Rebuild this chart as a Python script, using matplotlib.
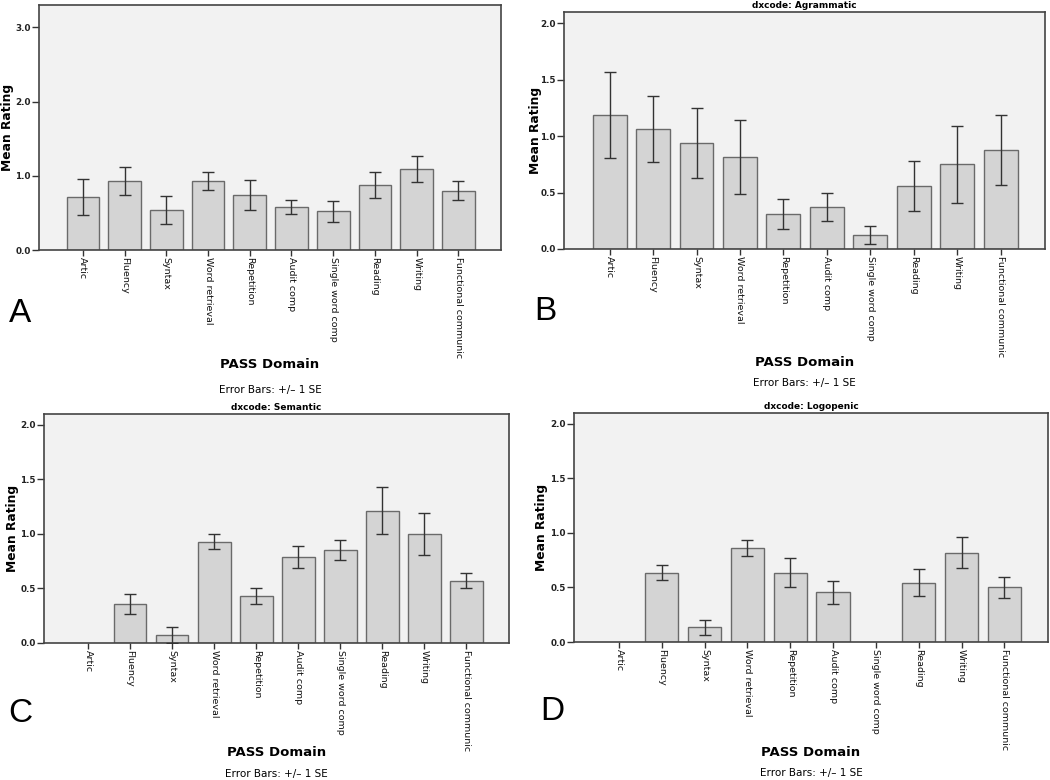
import matplotlib.pyplot as plt
import numpy as np

# PASS domains (x categories)
domains = ['Artic', 'Fluency', 'Syntax', 'Word retrieval', 'Repetition',
           'Audit comp', 'Single word comp', 'Reading', 'Writing',
           'Functional communic']

# panel A: all patients
mean_all = [0.71, 0.93, 0.54, 0.93, 0.74, 0.58, 0.52, 0.87, 1.09, 0.80]
se_all = [0.24, 0.19, 0.19, 0.125, 0.205, 0.10, 0.145, 0.175, 0.17, 0.13]

# panel B: agrammatic
mean_agr = [1.19, 1.065, 0.94, 0.815, 0.31, 0.375, 0.125, 0.56, 0.75, 0.875]
se_agr = [0.38, 0.295, 0.31, 0.33, 0.13, 0.125, 0.083, 0.222, 0.34, 0.31]

# panel C: semantic (nan = no bar)
mean_sem = [np.nan, 0.36, 0.072, 0.93, 0.43, 0.785, 0.855, 1.215, 1.0, 0.57]
se_sem = [np.nan, 0.093, 0.072, 0.07, 0.07, 0.10, 0.093, 0.215, 0.19, 0.07]

# panel D: logopenic
mean_log = [np.nan, 0.637, 0.135, 0.86, 0.637, 0.455, np.nan, 0.545, 0.818, 0.50]
se_log = [np.nan, 0.072, 0.07, 0.072, 0.135, 0.106, np.nan, 0.126, 0.141, 0.097]

panels = [
    ('A', None, mean_all, se_all, 3.3, [0.0, 1.0, 2.0, 3.0]),
    ('B', 'dxcode: Agrammatic', mean_agr, se_agr, 2.1, [0.0, 0.5, 1.0, 1.5, 2.0]),
    ('C', 'dxcode: Semantic', mean_sem, se_sem, 2.1, [0.0, 0.5, 1.0, 1.5, 2.0]),
    ('D', 'dxcode: Logopenic', mean_log, se_log, 2.1, [0.0, 0.5, 1.0, 1.5, 2.0]),
]

W, H = 1050, 780
# axes boxes in pixels: left, top, right, bottom
boxes = [(39, 5, 501, 250), (564, 12, 1045, 249),
         (44, 414, 509, 643), (574, 413, 1048, 642)]
# panel letter positions, y-label x and x-label y positions (pixels)
letters = [(20, 313), (545, 312), (20, 713), (552, 712)]
ylab_x = [8, 535, 13, 542]
pass_y = [365, 363, 753, 752]
err_y = [390, 383, 774, 773]

fig = plt.figure(figsize=(W / 100, H / 100), dpi=100)
fig.patch.set_facecolor('white')

x = np.arange(len(domains))
for (letter, title, means, ses, ymax, yticks), box, lp, yx, py, ey in zip(
        panels, boxes, letters, ylab_x, pass_y, err_y):
    l, t, r, b = box
    ax = fig.add_axes([l / W, 1 - b / H, (r - l) / W, (b - t) / H])
    ax.set_facecolor('#f2f2f2')
    means = np.array(means, dtype=float)
    ses = np.array(ses, dtype=float)
    ok = ~np.isnan(means)
    ax.bar(x[ok], means[ok], width=0.78, color='#d4d4d4',
           edgecolor='#6a6a6a', linewidth=1.0, zorder=2)
    ax.errorbar(x[ok], means[ok], yerr=ses[ok], fmt='none', ecolor='#333333',
                elinewidth=1.0, capsize=4.5, capthick=1.0, zorder=3)
    ax.set_xlim(-1.05, 10.02)
    ax.set_ylim(0, ymax)
    ax.set_yticks(yticks)
    ax.set_yticklabels(['%.1f' % v for v in yticks], fontsize=6.3,
                       fontweight='bold', color='#222222')
    ax.set_xticks(x)
    ax.set_xticklabels(domains, rotation=270, fontsize=6.8, color='#111111',
                       va='top', ha='center')
    ax.tick_params(axis='y', length=5, width=1, color='#333333', pad=1)
    ax.tick_params(axis='x', length=4, width=1, color='#333333', pad=1)
    for s in ax.spines.values():
        s.set_color('#444444')
        s.set_linewidth(1.2)
    if title:
        ax.set_title(title, fontsize=6.5, fontweight='bold', pad=3)

    cy = 1 - (t + b) / 2 / H
    fig.text(yx / W, cy, 'Mean Rating', rotation=90, ha='center',
             va='center', fontsize=8.8, fontweight='bold')
    cx = (l + r) / 2 / W
    fig.text(cx, 1 - py / H, 'PASS Domain', ha='center', va='center',
             fontsize=9.5, fontweight='bold')
    fig.text(cx, 1 - ey / H, 'Error Bars: +/\u2013 1 SE', ha='center',
             va='center', fontsize=7.5)
    fig.text(lp[0] / W, 1 - lp[1] / H, letter, ha='center', va='center',
             fontsize=24, family='Liberation Sans')

fig.savefig('out.png', dpi=100)
